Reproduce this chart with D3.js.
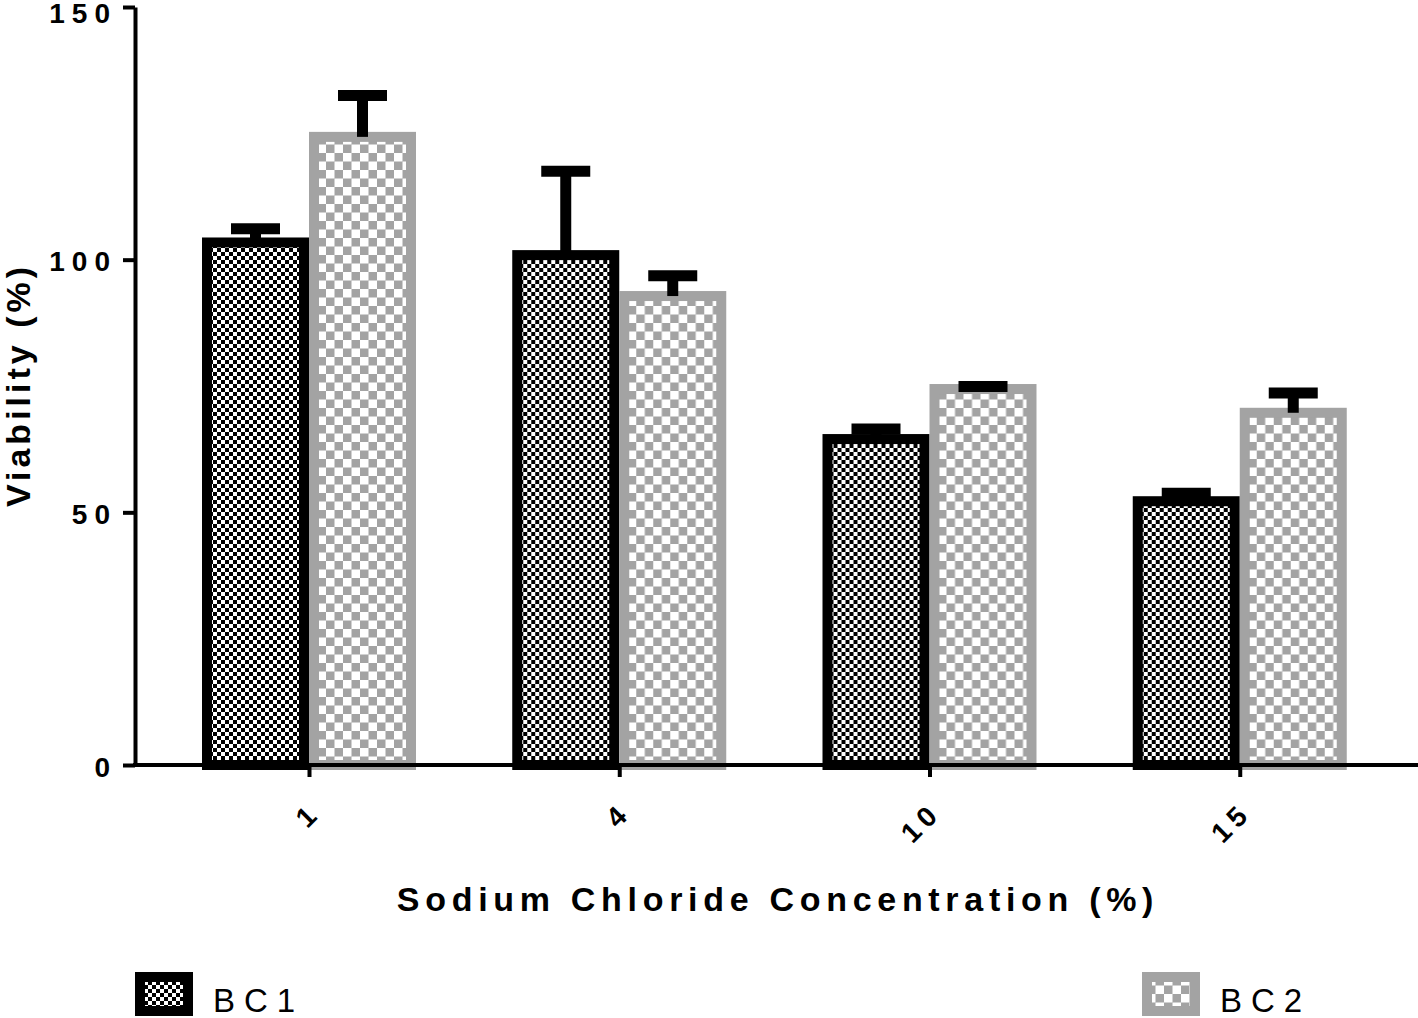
<!DOCTYPE html>
<html>
<head>
<meta charset="utf-8">
<script src="https://cdn.jsdelivr.net/npm/d3@7"></script>
<style>
  html, body { margin: 0; padding: 0; background: #fff; }
  svg { display: block; }
  text { font-family: "Liberation Sans", Arial, sans-serif; fill: #000; }
</style>
</head>
<body>
<div id="chart"></div>
<script>
// ---------------- DATA ----------------
const concentrations = ["1", "4", "10", "15"];
const seriesNames = ["BC1", "BC2"];
const bc1Mean = [103.4, 100.9, 64.5, 52.2];
const bc1Err  = [2.7, 16.6, 2.0, 1.6];
const bc2Mean = [124.3, 92.8, 74.4, 69.7];
const bc2Err  = [8.2, 4.0, 0.5, 3.9];
const yTicks = [0, 50, 100, 150];

const width = 1418, height = 1018;
const grey = "#a3a3a3";

const svg = d3.select("#chart")
  .append("svg")
  .attr("width", width)
  .attr("height", height);

// checker patterns
const defs = svg.append("defs");
const p1 = defs.append("pattern")
  .attr("id", "pat-bc1")
  .attr("patternUnits", "userSpaceOnUse")
  .attr("width", 8).attr("height", 8);
p1.append("rect").attr("width", 8).attr("height", 8).attr("fill", "#000");
p1.append("rect").attr("x", 0).attr("y", 0).attr("width", 4).attr("height", 4).attr("fill", "#fff");
p1.append("rect").attr("x", 4).attr("y", 4).attr("width", 4).attr("height", 4).attr("fill", "#fff");

const p2 = defs.append("pattern")
  .attr("id", "pat-bc2")
  .attr("patternUnits", "userSpaceOnUse")
  .attr("width", 17).attr("height", 17);
p2.append("rect").attr("width", 17).attr("height", 17).attr("fill", grey);
p2.append("rect").attr("x", 0).attr("y", 0).attr("width", 8.5).attr("height", 8.5).attr("fill", "#fff");
p2.append("rect").attr("x", 8.5).attr("y", 8.5).attr("width", 8.5).attr("height", 8.5).attr("fill", "#fff");

const styles = [
  {fill: "url(#pat-bc1)", stroke: "#000"},
  {fill: "url(#pat-bc2)", stroke: grey}
];

// scales
const y = d3.scaleLinear().domain([0, 150]).range([765, 7]);
const x = d3.scalePoint().domain(concentrations).range([309, 1239.75]);
const xSub = d3.scaleBand().domain(seriesNames).range([-107, 107]);

const rows = concentrations.map((c, i) => ({
  cat: c,
  values: [
    {s: 0, name: "BC1", mean: bc1Mean[i], err: bc1Err[i]},
    {s: 1, name: "BC2", mean: bc2Mean[i], err: bc2Err[i]}
  ]
}));

const barStroke = 10;

// bars
const groups = svg.append("g").selectAll("g")
  .data(rows)
  .join("g")
  .attr("transform", d => `translate(${x(d.cat)},0)`);

groups.selectAll("rect")
  .data(d => d.values)
  .join("rect")
  .attr("x", d => xSub(d.name) + barStroke / 2)
  .attr("width", xSub.bandwidth() - barStroke)
  .attr("y", d => y(d.mean))
  .attr("height", d => y(0) - y(d.mean))
  .attr("fill", d => styles[d.s].fill)
  .attr("stroke", d => styles[d.s].stroke)
  .attr("stroke-width", barStroke);

// error bars (upper only)
const eb = groups.selectAll("g.err")
  .data(d => d.values)
  .join("g")
  .attr("class", "err")
  .attr("transform", d => `translate(${xSub(d.name) + xSub.bandwidth() / 2},0)`);

eb.append("line")
  .attr("x1", 0).attr("x2", 0)
  .attr("y1", d => y(d.mean))
  .attr("y2", d => y(d.mean + d.err))
  .attr("stroke", "#000")
  .attr("stroke-width", 11);

eb.append("line")
  .attr("x1", -24.5).attr("x2", 24.5)
  .attr("y1", d => y(d.mean + d.err))
  .attr("y2", d => y(d.mean + d.err))
  .attr("stroke", "#000")
  .attr("stroke-width", 11);

// y axis
const yAxis = svg.append("g")
  .attr("transform", "translate(135,0)")
  .call(d3.axisLeft(y).tickValues(yTicks).tickSize(12).tickSizeOuter(0).tickPadding(6));
yAxis.select(".domain").attr("stroke", "#000").attr("stroke-width", 4);
yAxis.selectAll(".tick line").attr("stroke", "#000").attr("stroke-width", 4);
yAxis.selectAll(".tick text")
  .attr("dy", d => d === 150 ? "15px" : "11px")
  .style("font-family", "'Liberation Sans', Arial, sans-serif")
  .style("font-size", "28px")
  .style("font-weight", "bold")
  .style("letter-spacing", "7px")
  .attr("fill", "#000");

// x axis
svg.append("line")
  .attr("x1", 133).attr("x2", width)
  .attr("y1", y(0)).attr("y2", y(0))
  .attr("stroke", "#000")
  .attr("stroke-width", 4);

const xAxis = svg.append("g")
  .attr("transform", `translate(0,${y(0)})`)
  .call(d3.axisBottom(x).tickSize(12).tickSizeOuter(0));
xAxis.select(".domain").remove();
xAxis.selectAll(".tick line").attr("stroke", "#000").attr("stroke-width", 4);
xAxis.selectAll(".tick text")
  .attr("x", 0).attr("y", 0).attr("dy", 0)
  .attr("transform", "translate(13,49) rotate(-45)")
  .attr("text-anchor", "end")
  .style("font-family", "'Liberation Sans', Arial, sans-serif")
  .style("font-size", "28px")
  .style("font-weight", "bold")
  .style("letter-spacing", "6px")
  .attr("fill", "#000");

// axis titles
svg.append("text")
  .attr("x", 775 + 3)
  .attr("y", 911)
  .attr("text-anchor", "middle")
  .style("font-size", "34px")
  .style("font-weight", "bold")
  .style("letter-spacing", "5.7px")
  .text("Sodium Chloride Concentration (%)");

svg.append("text")
  .attr("transform", "translate(30,385) rotate(-90)")
  .attr("text-anchor", "middle")
  .style("font-size", "34px")
  .style("font-weight", "bold")
  .style("letter-spacing", "4px")
  .text("Viability (%)");

// legend
const legendX = [140, 1147];
const legend = svg.append("g").selectAll("g")
  .data(seriesNames)
  .join("g")
  .attr("transform", (d, i) => `translate(${legendX[i]},977)`);

legend.append("rect")
  .attr("width", 48).attr("height", 34)
  .attr("fill", (d, i) => styles[i].fill)
  .attr("stroke", (d, i) => styles[i].stroke)
  .attr("stroke-width", 10);

legend.append("text")
  .attr("x", 73)
  .attr("y", 35)
  .style("font-size", "33px")
  .style("letter-spacing", "9px")
  .text(d => d);
</script>
</body>
</html>
